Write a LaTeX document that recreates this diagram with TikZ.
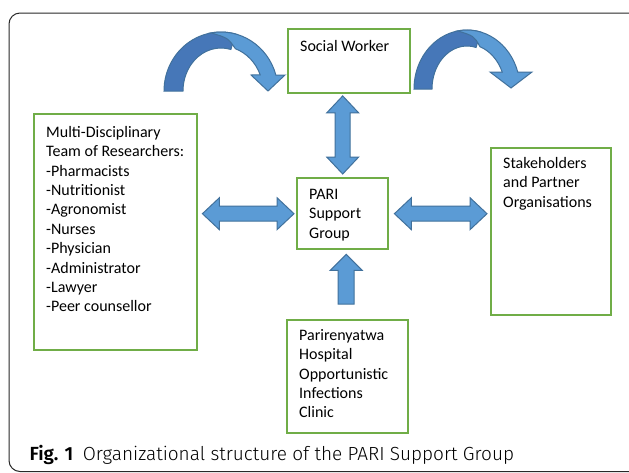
\documentclass[tikz,border=0pt]{standalone}
\usepackage{fontspec}
\setmainfont{Carlito}
\newfontfamily\capfont{Fira Sans}[UprightFont=* Light, BoldFont=* SemiBold]
\usetikzlibrary{calc}

\definecolor{unitgreen}{RGB}{112,173,71}
\definecolor{arrowblue}{RGB}{91,155,213}
\definecolor{arrowdark}{RGB}{70,119,184}
\definecolor{arrowedge}{RGB}{65,113,156}
\definecolor{framegray}{RGB}{40,40,40}

\newcommand{\unitfont}{\fontsize{16pt}{19.4pt}\selectfont}
\newcommand{\unitlines}[4]{\parbox[c][#2][t]{#1}{\leftskip=12pt\rule{0pt}{#3}#4}}

\tikzset{
  unit/.style={draw=unitgreen, line width=2.4pt, fill=white, inner sep=0pt, anchor=north west, font=\unitfont},
  blockarrow/.style={fill=arrowblue, draw=arrowedge, line width=1pt},
  archback/.style={fill=arrowdark, draw=arrowedge, line width=1pt},
  archfront/.style={fill=arrowblue, draw=arrowedge, line width=1pt},
  both ways/.style={to path={
    -- ($(\tikztostart)!17pt!(\tikztotarget)!16pt!90:(\tikztotarget)$)
    -- ($(\tikztostart)!17pt!(\tikztotarget)!7.5pt!90:(\tikztotarget)$)
    -- ($(\tikztotarget)!17pt!(\tikztostart)!7.5pt!-90:(\tikztostart)$)
    -- ($(\tikztotarget)!17pt!(\tikztostart)!16pt!-90:(\tikztostart)$)
    -- (\tikztotarget)
    -- ($(\tikztotarget)!17pt!(\tikztostart)!16pt!90:(\tikztostart)$)
    -- ($(\tikztotarget)!17pt!(\tikztostart)!7.5pt!90:(\tikztostart)$)
    -- ($(\tikztostart)!17pt!(\tikztotarget)!7.5pt!-90:(\tikztotarget)$)
    -- ($(\tikztostart)!17pt!(\tikztotarget)!16pt!-90:(\tikztotarget)$)
    -- cycle}},
  one way/.style={to path={
    -- ($(\tikztostart)!8pt!90:(\tikztotarget)$)
    -- ($(\tikztotarget)!16pt!(\tikztostart)!8pt!-90:(\tikztostart)$)
    -- ($(\tikztotarget)!16pt!(\tikztostart)!16pt!-90:(\tikztostart)$)
    -- (\tikztotarget)
    -- ($(\tikztotarget)!16pt!(\tikztostart)!16pt!90:(\tikztostart)$)
    -- ($(\tikztotarget)!16pt!(\tikztostart)!8pt!90:(\tikztostart)$)
    -- ($(\tikztostart)!8pt!-90:(\tikztotarget)$)
    -- cycle}}
}

\begin{document}
\begin{tikzpicture}[x=1pt, y=-1pt]
  \useasboundingbox (0,0) rectangle (629,472);
  \clip (0,0) rectangle (629,472);
  \fill[white] (0,0) rectangle (629,472);
  \draw[framegray, line width=1pt, rounded corners=11pt] (9,13) rectangle (645,471.5);

  \node[unit] (social) at (287,28) {\unitlines{122pt}{64pt}{22pt}{Social Worker}};
  \node[unit] (team) at (33,113) {\unitlines{163pt}{236pt}{23pt}{Multi-Disciplinary\\Team of Researchers:\\-Pharmacists\\-Nutritionist\\-Agronomist\\-Nurses\\-Physician\\-Administrator\\-Lawyer\\-Peer counsellor}};
  \node[unit] (pari) at (296,177) {\unitlines{91pt}{71pt}{21pt}{PARI\\Support\\Group}};
  \node[unit] (partners) at (490,147) {\unitlines{120pt}{167pt}{20pt}{Stakeholders\\and Partner\\Organisations}};
  \node[unit] (clinic) at (286,319) {\unitlines{121pt}{113pt}{20pt}{Parirenyatwa\\Hospital\\Opportunistic\\Infections\\Clinic}};

  \coordinate (swfoot) at ($(pari.north |- social.south)+(0,1.5)$);
  \coordinate (parinorth) at ($(pari.north)+(0,-3)$);
  \coordinate (teamport) at ($(team.east |- pari.west)+(4,0)$);
  \coordinate (pariwest) at ($(pari.west)+(-2,0)$);
  \coordinate (parieast) at ($(pari.east)+(5,0)$);
  \coordinate (partnerport) at ($(partners.west |- pari.east)+(-3,0)$);
  \coordinate (clinicport) at ($(clinic.north)+(-1.5,-15)$);
  \coordinate (parisouth) at ($(clinic.north |- pari.south)+(-1.5,4)$);

  \filldraw[blockarrow] (swfoot) to[both ways] (parinorth);
  \filldraw[blockarrow] (teamport) to[both ways] (pariwest);
  \filldraw[blockarrow] (parieast) to[both ways] (partnerport);
  \filldraw[blockarrow] (clinicport) to[one way] (parisouth);

  % curved arrow towards the social worker
  \begin{scope}[shift={(221,91)}]
    \filldraw[archback] (180:57pt and 59pt)
      arc[start angle=180, end angle=75, x radius=57pt, y radius=59pt]
      -- (75:38pt and 43pt)
      arc[start angle=75, end angle=180, x radius=38pt, y radius=43pt] -- cycle;
    \filldraw[archfront] (100:57pt and 59pt)
      arc[start angle=100, end angle=15.7, x radius=57pt, y radius=59pt]
      -- (64,-16) -- (47,0) -- (30,-16) -- (21:42pt and 45pt)
      arc[start angle=21, end angle=70, x radius=42pt, y radius=45pt]
      .. controls (7,-53) .. (100:57pt and 59pt) -- cycle;
  \end{scope}

  % curved arrow towards the partners
  \begin{scope}[shift={(467,89)}]
    \filldraw[archback] (180:53pt and 59pt)
      arc[start angle=180, end angle=75, x radius=53pt, y radius=59pt]
      -- (75:35pt and 43pt)
      arc[start angle=75, end angle=180, x radius=35pt, y radius=43pt] -- cycle;
    \filldraw[archfront] (100:53pt and 59pt)
      arc[start angle=100, end angle=16.75, x radius=53pt, y radius=59pt]
      -- (65,-17) -- (44,-1) -- (23,-17) -- (22.2:38pt and 45pt)
      arc[start angle=22.2, end angle=70, x radius=38pt, y radius=45pt]
      .. controls (7,-53) .. (100:53pt and 59pt) -- cycle;
  \end{scope}

  \node[anchor=base west, font=\capfont\fontsize{19pt}{22pt}\selectfont] (caption) at (26,460)
    {\textbf{Fig. 1}\hspace{0.5em}Organizational structure of the PARI Support Group};
\end{tikzpicture}
\end{document}
